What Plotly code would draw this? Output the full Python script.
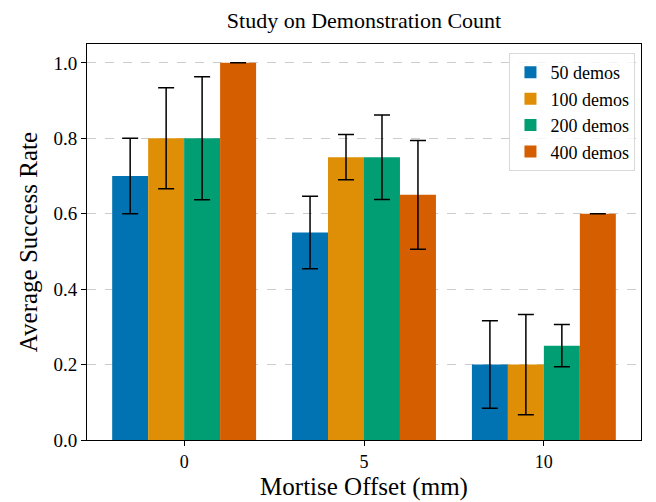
import plotly.graph_objects as go

categories = ["0", "5", "10"]
series_names = ["50 demos", "100 demos", "200 demos", "400 demos"]
means_50 = [0.70, 0.55, 0.20]
means_100 = [0.80, 0.75, 0.20]
means_200 = [0.80, 0.75, 0.25]
means_400 = [1.00, 0.65, 0.60]
err_50 = [0.10, 0.096, 0.116]
err_100 = [0.134, 0.06, 0.133]
err_200 = [0.163, 0.112, 0.056]
err_400 = [0.0, 0.144, 0.0]
colors = ["#0173b2", "#de8f05", "#029e73", "#d55e00"]

means = [means_50, means_100, means_200, means_400]
errs = [err_50, err_100, err_200, err_400]
xpos = list(range(len(categories)))

fig = go.Figure()
for name, m, e, c in zip(series_names, means, errs, colors):
    fig.add_trace(go.Bar(
        x=xpos, y=m, name=name, marker=dict(color=c, line=dict(width=0)),
        error_y=dict(type="data", array=e, visible=True, color="black",
                     thickness=1.5, width=8),
    ))

font_family = "Liberation Serif, Times New Roman, serif"
fig.update_layout(
    barmode="group", bargap=0.2, bargroupgap=0,
    width=656, height=502,
    margin=dict(l=87, r=15, t=44, b=62),
    paper_bgcolor="white", plot_bgcolor="white",
    font=dict(family=font_family, color="black", size=18),
    title=dict(text="Study on Demonstration Count", x=(87 + 641) / 2 / 656, xanchor="center",
               y=1 - 20 / 502, yanchor="middle", font=dict(size=22, family=font_family)),
    xaxis=dict(
        range=[-0.54, 2.54], tickvals=xpos, ticktext=categories,
        showline=True, mirror=True, linecolor="black", linewidth=1,
        ticks="outside", ticklen=5, tickcolor="black", showgrid=False,
        tickfont=dict(size=18), automargin=False,
        title=dict(text="Mortise Offset (mm)", font=dict(size=25), standoff=6),
    ),
    yaxis=dict(
        range=[0, 1.05], dtick=0.2, tickformat=".1f",
        showline=True, mirror=True, linecolor="black", linewidth=1,
        ticks="outside", ticklen=5, tickcolor="black",
        showgrid=True, gridcolor="#cccccc", griddash="dash", gridwidth=1,
        zeroline=False, tickfont=dict(size=19), automargin=False,
        title=dict(text="Average Success Rate", font=dict(size=25), standoff=8),
    ),
    legend=dict(
        x=0.99, y=0.977, xanchor="right", yanchor="top",
        bordercolor="#d9d9d9", borderwidth=1, bgcolor="rgba(255,255,255,0.8)",
        font=dict(size=18, family=font_family), tracegroupgap=2,
    ),
)

fig.write_html("out.html")
